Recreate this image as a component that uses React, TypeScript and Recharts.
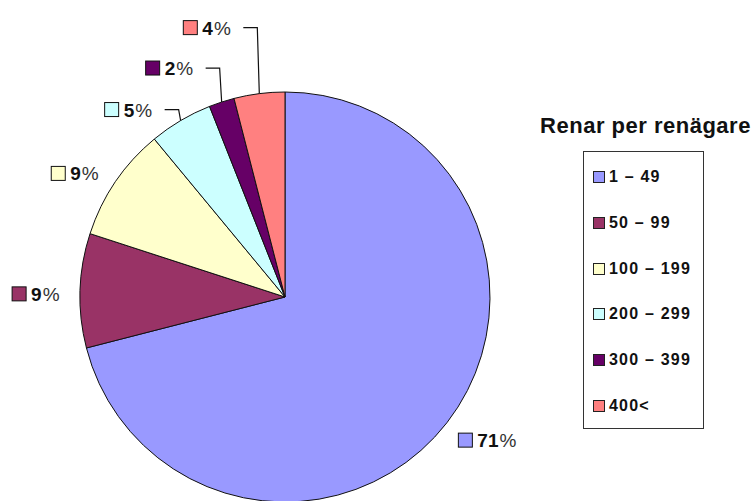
import { PieChart, Pie, Cell, Legend } from "recharts";

const categories = ["1 – 49", "50 – 99", "100 – 199", "200 – 299", "300 – 399", "400<"];
const shares = [71, 9, 9, 5, 2, 4];
const colors = ["#9999FF", "#993366", "#FFFFCC", "#CCFFFF", "#660066", "#FF8080"];
const legendTitle = "Renar per renägare";

// how far the leader line climbs above the slice edge (0 = label sits next to the slice)
const leaderRise = [0, 0, 0, 11, 34, 66];

const data = categories.map((name, i) => ({ name, value: shares[i] }));

const FONT = "'Liberation Sans', Arial, sans-serif";
const RADIAN = Math.PI / 180;

const edgePoint = (cx: number, cy: number, r: number, midAngle: number) => ({
  x: cx + r * Math.cos(-midAngle * RADIAN),
  y: cy + r * Math.sin(-midAngle * RADIAN),
});

const renderLabel = (props: any) => {
  const { cx, cy, midAngle, outerRadius, index, value } = props;
  const rise = leaderRise[index];
  const textW = String(value).length * 12 + 17;
  let left: number;
  let y: number;
  if (rise > 0) {
    const p = edgePoint(cx, cy, outerRadius, midAngle);
    y = p.y - rise;
    const end = p.x - 2 - 14 - 12;
    left = end - textW - 19;
  } else {
    const p = edgePoint(cx, cy, outerRadius + 22, midAngle);
    y = p.y + 4;
    left = p.x < cx ? p.x - textW - 17 : p.x - 6;
  }
  return (
    <g key={`lbl-${index}`}>
      <rect x={left} y={y - 7} width={14} height={14} fill={colors[index]} stroke="#111" strokeWidth={1} />
      <text x={left + 19} y={y + 7} fontFamily={FONT} fontSize={19} fill="#111">
        <tspan fontWeight="bold">{value}</tspan>
        <tspan fontWeight="normal" fill="#333" dx={1}>%</tspan>
      </text>
    </g>
  );
};

const renderLabelLine = (props: any) => {
  const { cx, cy, midAngle, outerRadius, index } = props;
  const rise = leaderRise[index];
  if (!rise) return <g key={`ll-${index}`} />;
  const p = edgePoint(cx, cy, outerRadius, midAngle);
  const top = p.y - rise;
  return (
    <path
      key={`ll-${index}`}
      d={`M${p.x},${p.y} L${p.x - 2},${top} L${p.x - 16},${top}`}
      fill="none"
      stroke="#111"
      strokeWidth={1.2}
    />
  );
};

const renderLegend = (props: any) => {
  const payload = [...(props.payload || [])].sort(
    (a: any, b: any) => categories.indexOf(a.value) - categories.indexOf(b.value)
  );
  return (
    <div style={{ position: "relative", width: 225, height: 330, fontFamily: FONT }}>
      <div
        style={{
          position: "absolute",
          top: 13,
          left: 0,
          width: 225,
          textAlign: "center",
          fontWeight: "bold",
          fontSize: 22,
          letterSpacing: 0.5,
          color: "#111",
          whiteSpace: "nowrap",
        }}
      >
        {legendTitle}
      </div>
      <div
        style={{
          position: "absolute",
          top: 51,
          left: 50,
          width: 119,
          height: 276,
          border: "1px solid #333",
        }}
      >
        {payload.map((entry: any, i: number) => (
          <div
            key={entry.value}
            style={{
              position: "absolute",
              left: 9,
              top: 25 + i * 45.8 - 10,
              height: 20,
              display: "flex",
              alignItems: "center",
              whiteSpace: "nowrap",
            }}
          >
            <span
              style={{
                display: "inline-block",
                width: 10,
                height: 10,
                background: entry.color,
                border: "1px solid #222",
                marginRight: 4,
              }}
            />
            <span style={{ fontSize: 16, fontWeight: "bold", letterSpacing: 1.2, color: "#111" }}>
              {entry.value}
            </span>
          </div>
        ))}
      </div>
    </div>
  );
};

export default function App() {
  return (
    <div style={{ width: 755, height: 501, background: "#fff" }}>
      <style>{`body{margin:0;}`}</style>
      <PieChart width={755} height={501} margin={{ top: 0, right: 0, bottom: 0, left: 0 }}>
        <Pie
          data={data}
          dataKey="value"
          nameKey="name"
          cx={285}
          cy={297}
          outerRadius={205}
          startAngle={90}
          endAngle={-270}
          stroke="#111"
          strokeWidth={1}
          label={renderLabel}
          labelLine={renderLabelLine}
          isAnimationActive={false}
        >
          {data.map((d, i) => (
            <Cell key={d.name} fill={colors[i]} />
          ))}
        </Pie>
        <Legend
          content={renderLegend}
          itemSorter={null as any}
          wrapperStyle={{ position: "absolute", left: 533, top: 100, width: 225, height: 330 }}
        />
      </PieChart>
    </div>
  );
}
